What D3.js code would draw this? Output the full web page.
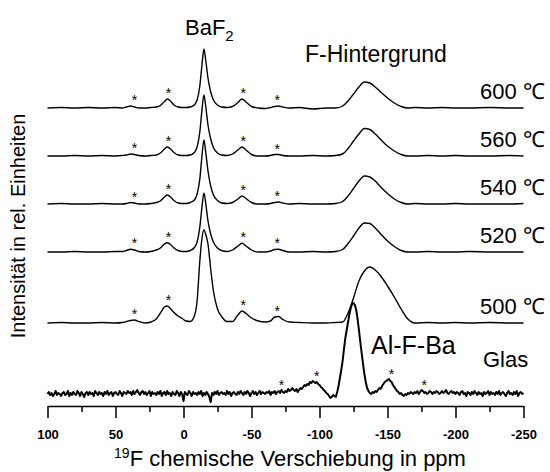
<!DOCTYPE html>
<html lang="de">
<head>
<meta charset="UTF-8">
<title>19F MAS-NMR Spektren</title>
<style>
  body { margin: 0; background: #fff; }
  svg { display: block; font-family: "Liberation Sans", Arial, Helvetica, sans-serif; }
  .trace { fill: none; stroke: #000; stroke-width: 1.4px; stroke-linejoin: round; }
  .trace.glass { stroke-width: 2px; }
  .label { font-size: 22px; fill: #000; }
  .star { font-size: 14px; fill: #000; }
  .axis path, .axis line { stroke: #000; stroke-width: 1.5px; }
  .axis text { font-size: 13px; font-weight: bold; fill: #000; }
</style>
</head>
<body>
<svg width="550" height="472"></svg>
<script src="https://d3js.org/d3.v7.min.js"></script>
<script>
const width = 550, height = 472;

const ppmGrid = [100, 90, 80, 70, 60, 50, 45, 42, 39, 36, 33, 28, 24, 20, 17, 14,
  12, 10, 7, 4, 1, -2, -5, -8, -10, -12, -13.5, -15, -16.5, -18, -20, -22, -25, -28,
  -32, -36, -40, -43, -46, -50, -55, -60, -64, -67, -70, -73, -78, -85, -95, -105,
  -112, -117, -121, -125, -129, -133, -137, -141, -145, -150, -155, -160, -165, -170,
  -180, -190, -200, -210, -225, -240, -250];

// intensities (rel. units) above each spectrum's own baseline
const spec600 = [0, 0.5, 0, 0.5, 0, 0.5, 0, 1, 2, 1, 0, 0, 0.5, 1, 2.5, 6.5,
  9, 7.5, 3, 1, 0.5, 0.5, 1, 3, 8, 22, 42, 59, 46, 30, 16, 8, 3, 1,
  0.5, 1.5, 5.5, 9, 6, 1.5, 0, -0.5, 0.5, 1.5, 2, 1, 0, 0.5, -1, 0,
  0, 2, 7, 14, 21, 26, 25, 21, 16, 10, 5, 1.5, 0, 0.5,
  0, 0.5, 0, 0, 0.5, 0, 0];
const spec560 = [0, 0, 0.5, 0, 0.5, 0, 0.5, 1, 2, 1.5, 0.5, 0, 0.5, 1, 3, 7,
  9, 7.5, 3.5, 1, 0.5, 0.5, 1, 3.5, 9, 24, 45, 61, 48, 31, 17, 8.5, 3, 1,
  0.5, 2, 6, 9, 6, 1.5, 0, 0, 0.5, 1.5, 1.5, 0.5, 0, 0, 0.5, 0,
  0.5, 2, 7.5, 15, 22, 27.5, 26.5, 22, 16.5, 10, 5, 1.5, 0, 0,
  0.5, 0, 0.5, 0, 0, 0.5, 0];
const spec540 = [0, 0.5, 0, 0, 0.5, 0, 0, 0.5, 1.5, 1, 0, 0, 0.5, 1.5, 3, 7,
  9, 7.5, 3.5, 1, 0.5, 0.5, 1.5, 4, 10, 25, 47, 64, 50, 33, 18, 9, 3.5, 1,
  0.5, 1.5, 5, 8, 5.5, 1.5, 0, 0, 0.5, 1.5, 2, 1, 0, 0.5, 0, 0,
  0.5, 2.5, 8, 15.5, 23, 28, 27, 23, 17, 10.5, 5, 1.5, 0, 0.5,
  0, 0, 0.5, 0, 0, 0, 0.5];
const spec520 = [0, 0, 0.5, 0, 0, 0.5, 0.5, 1.5, 2.7, 2, 0.5, 0, 0.5, 2, 4, 8,
  9.3, 8, 4, 1.5, 0.5, 0.5, 1.5, 4.5, 10, 25, 44, 59, 47, 31, 18, 10, 4, 1.5,
  0.5, 2, 6, 8.7, 6, 2, 0, 0, 1, 2.5, 2.7, 1.5, 0, 0, 0.5, 0,
  0.5, 2.5, 8.5, 16, 24, 29, 28.5, 24, 18, 11, 5.5, 1.5, 0, 0,
  0.5, 0, 0, 0.5, 0, 0, 0];
const spec500 = [0, 0.5, 0, 0, 0.5, 0, 0.5, 1.5, 2.5, 3, 1.5, 0, 1, 4, 10, 16,
  17, 15, 10.5, 7, 4.5, 2, 1.5, 7, 22, 62, 84, 93, 88, 79, 54, 32, 14, 6.5,
  1.5, 1.5, 8, 12, 9.5, 5, 2, 1, 2, 6, 6.5, 3.5, 1, 0.5, 0, 0,
  0.5, 1, 10, 25, 42, 52, 56, 53, 47, 37, 26, 14, 4, 0,
  0.5, 0, 0.5, 0, 0.5, 0, 0];

// glass spectrum, one value per ppm from 100 down to -250
const glassValues = [
  0, 2, -1, 1, -2, 0, 3, -1, 1, 0,
  -2, 1, 2, -1, 0, 3, -2, 1, -1, 2,
  0, -1, 3, 1, -2, 2, 0, -3, 1, 2,
  -1, 2, 0, 1, -2, 3, 1, -1, 2, 0,
  1, -2, 2, 0, 3, -1, 1, 2, -2, 1,
  2, 0, -1, 3, 1, -2, 2, 1, 0, 3,
  1, 2, -1, 3, 0, 2, 4, 1, -1, 2,
  3, 0, 2, -1, 1, 3, -2, 2, 0, 1,
  -1, 2, 0, 3, -2, 1, 2, -1, 3, 0,
  1, -2, 2, 0, -1, 3, 1, -2, 2, 0,
  -7, 2, 0, -1, 3, 1, -2, 2, 0, 1,
  -1, 2, 0, 3, -2, 1, -1, 2, 0, -3,
  -8, 1, -1, 2, 0, 3, -1, 1, 2, 0,
  1, -1, 3, 0, 2, -2, 1, 2, 0, -1,
  2, 0, 3, 1, -1, 2, 0, 3, 1, -2,
  1, 3, 0, 2, -1, 1, 3, 0, 2, 1,
  0, 2, 1, 3, -1, 2, 1, 3, 0, 2,
  3, 1, 4, 2, 1, 3, 2, 5, 3, 4,
  6, 4, 3, 5, 2, 4, 6, 5, 7, 9,
  8, 10, 9, 12, 11, 13, 12, 11, 12, 10,
  9, 7, 6, 4, 3, 1, 0, -2, -4, -3,
  -1, -2, -3, 2, 8, 16, 24, 33, 45, 56,
  64, 72, 80, 86, 90, 91, 89, 84, 75, 64,
  52, 41, 30, 20, 12, 6, 3, 1, 0, 2,
  1, 3, 2, 4, 6, 5, 8, 10, 12, 13,
  14, 15, 13, 12, 9, 7, 5, 3, 2, 0,
  1, -1, -2, 0, -1, 1, 0, 2, 1, 0,
  2, 1, 3, 0, 2, 4, 3, 1, 2, 0,
  1, 3, 2, 0, 2, 1, 3, 2, 0, 1,
  3, 1, 2, 4, 1, 0, 2, 3, 1, 2,
  0, 2, 1, -1, 2, 3, 0, 1, -2, 2,
  1, -1, 2, 0, 3, 1, -1, 2, 0, 1,
  -2, 2, 0, 1, 3, -1, 2, 0, 1, -1,
  2, 0, 3, -1, 1, 2, 0, -2, 1, 3,
  0, 1, -1, 2, 0, 3, -2, 1, 2, 0,
  1];

const temperatures = ["600", "560", "540", "520", "500"];
const crystalSpectra = [spec600, spec560, spec540, spec520, spec500];
const baselineOffsets = [298, 250, 202, 154, 83];
const glassOffset = 12;

const sidebandPpm = [36, 11, -44, -69];
const glassSidebandPpm = [-72, -98, -153, -177];

const majorTicks = [100, 50, 0, -50, -100, -150, -200, -250];
const minorTicks = [75, 25, -25, -75, -125, -175, -225];

const svg = d3.select("svg")
  .attr("width", width)
  .attr("height", height);

const x = d3.scaleLinear().domain([100, -250]).range([47.5, 523.5]);
const y = d3.scaleLinear().domain([0, 400]).range([406, 6]);

const line = d3.line()
  .x(d => x(d[0]))
  .y(d => y(d[1]))
  .curve(d3.curveMonotoneX);

// stacked spectra
crystalSpectra.forEach((vals, i) => {
  const pts = ppmGrid.map((p, k) => [p, vals[k] + baselineOffsets[i]]);
  svg.append("path").attr("class", "trace").attr("d", line(pts));

  sidebandPpm.forEach(sp => {
    const near = ppmGrid.map((p, k) => Math.abs(p - sp) <= 5 ? vals[k] : -Infinity);
    const top = d3.max(near) + baselineOffsets[i];
    svg.append("text").attr("class", "star")
      .attr("x", x(sp)).attr("y", y(top + 8) + 7)
      .attr("text-anchor", "middle").text("*");
  });

  svg.append("text").attr("class", "label")
    .attr("x", 480).attr("y", y(baselineOffsets[i] + 9))
    .text(temperatures[i] + " \u2103");
});

const glassPpm = d3.range(glassValues.length).map(k => 100 - k);
const glassPts = glassPpm.map((p, k) => [p, glassValues[k] + glassOffset]);
svg.append("path").attr("class", "trace glass")
  .attr("d", line.curve(d3.curveLinear)(glassPts));

glassSidebandPpm.forEach(sp => {
  const near = glassPpm.map((p, k) => Math.abs(p - sp) <= 3 ? glassValues[k] : -Infinity);
  const top = d3.max(near) + glassOffset;
  svg.append("text").attr("class", "star")
    .attr("x", x(sp)).attr("y", y(top + 7) + 7)
    .attr("text-anchor", "middle").text("*");
});

// peak labels
const baf = svg.append("text").attr("class", "label")
  .attr("x", 185).attr("y", 35);
baf.append("tspan").text("BaF");
baf.append("tspan").attr("font-size", 15).attr("dy", 6).text("2");

svg.append("text").attr("class", "label")
  .attr("x", 305).attr("y", 62).style("font-size", "23px").text("F-Hintergrund");

svg.append("text").attr("class", "label")
  .attr("x", 371).attr("y", 354).style("font-size", "25px").text("Al-F-Ba");

svg.append("text").attr("class", "label")
  .attr("x", 483).attr("y", 367).text("Glas");

// x axis
svg.append("g").attr("class", "axis")
  .attr("transform", "translate(0,406)")
  .call(d3.axisBottom(x).tickValues(majorTicks).tickSize(12).tickSizeOuter(0)
    .tickPadding(12).tickFormat(d => String(d)));

svg.append("g").attr("class", "axis")
  .attr("transform", "translate(0,406)")
  .call(d3.axisBottom(x).tickValues(minorTicks).tickSize(6).tickFormat(""))
  .call(g => g.select(".domain").remove());

const xt = svg.append("text").attr("class", "label")
  .attr("x", 290).attr("y", 466).attr("text-anchor", "middle");
xt.append("tspan").attr("font-size", 14).attr("dy", -8).text("19");
xt.append("tspan").attr("dy", 8).text("F chemische Verschiebung in ppm");

svg.append("text").attr("class", "label")
  .attr("transform", "translate(25,226) rotate(-90)")
  .attr("text-anchor", "middle").style("font-size", "20px")
  .text("Intensität in rel. Einheiten");
</script>
</body>
</html>
